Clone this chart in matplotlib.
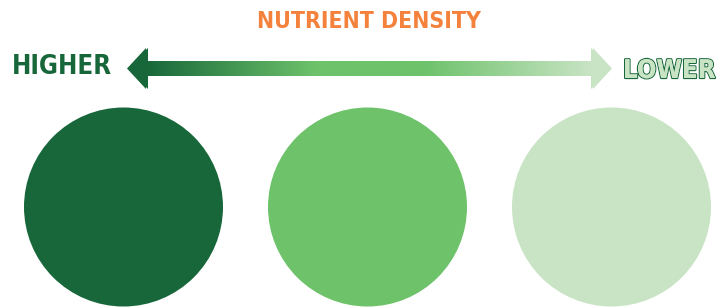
import numpy as np
import matplotlib.pyplot as plt
import matplotlib.patheffects as pe
from matplotlib import font_manager
from matplotlib.patches import Circle, Polygon
from matplotlib.colors import LinearSegmentedColormap

# labels and colours of the scale
title = "NUTRIENT DENSITY"
end_labels = ["HIGHER", "LOWER"]
circle_colors = ["#17673A", "#6DC26A", "#C9E4C5"]
gradient_stops = [0.0, 0.38, 0.62, 1.0]
gradient_colors = ["#17673A", "#6DC26A", "#6DC26A", "#C9E4C5"]

W, H = 728, 307
fig = plt.figure(figsize=(W / 100, H / 100), dpi=100)
ax = fig.add_axes([0, 0, 1, 1])
ax.set_xlim(0, W)
ax.set_ylim(H, 0)
ax.axis("off")

names = {f.name for f in font_manager.fontManager.ttflist}
cond = any("Condensed" in f.fname for f in font_manager.fontManager.ttflist if f.name == "DejaVu Sans")
print("condensed dejavu:", cond)
font = dict(family=["DejaVu Sans"], fontweight="bold", fontstretch="condensed" if cond else "normal")
k = 1.0 if cond else 0.92

# title
ax.text(369, 21.5, title, ha="center", va="center", color="#F4823C",
        fontsize=16.5 * k, **font)

# double arrow with gradient fill
x0, x1 = 127, 612
head_len = 21
yc = 68.5
shaft_h, head_h = 7.5, 20.5
arrow = Polygon([
    (x0, yc), (x0 + head_len, yc - head_h), (x0 + head_len, yc - shaft_h),
    (x1 - head_len, yc - shaft_h), (x1 - head_len, yc - head_h), (x1, yc),
    (x1 - head_len, yc + head_h), (x1 - head_len, yc + shaft_h),
    (x0 + head_len, yc + shaft_h), (x0 + head_len, yc + head_h)],
    closed=True, facecolor="none", edgecolor="none")
ax.add_patch(arrow)
cmap = LinearSegmentedColormap.from_list("nd", list(zip(gradient_stops, gradient_colors)))
grad = np.linspace(0, 1, 512).reshape(1, -1)
im = ax.imshow(grad, cmap=cmap, extent=[x0 + 18, x1 - 18, yc + head_h, yc - head_h],
               aspect="auto", interpolation="bilinear")
im.set_clip_path(arrow)
# arrow tips keep the end colours
for pts, c in [([(x0, yc), (x0 + 19, yc - head_h), (x0 + 19, yc + head_h)], gradient_colors[0]),
               ([(x1, yc), (x1 - 19, yc - head_h), (x1 - 19, yc + head_h)], gradient_colors[-1])]:
    ax.add_patch(Polygon(pts, closed=True, facecolor=c, edgecolor="none"))

# end labels
ax.text(12, 67, end_labels[0], ha="left", va="center", color="#17673A",
        fontsize=18.5 * k, **font)
ax.text(623, 71, end_labels[1], ha="left", va="center", color="#C9E4C5",
        fontsize=18.5 * k, **font,
        path_effects=[pe.withStroke(linewidth=1.6, foreground="#17673A"), pe.Normal()])

# circles
centers = [123.5, 367.5, 611.5]
for cx, col in zip(centers, circle_colors):
    ax.add_patch(Circle((cx, 207), 99.5, facecolor=col, edgecolor="none"))

fig.savefig("out.png", dpi=100)
